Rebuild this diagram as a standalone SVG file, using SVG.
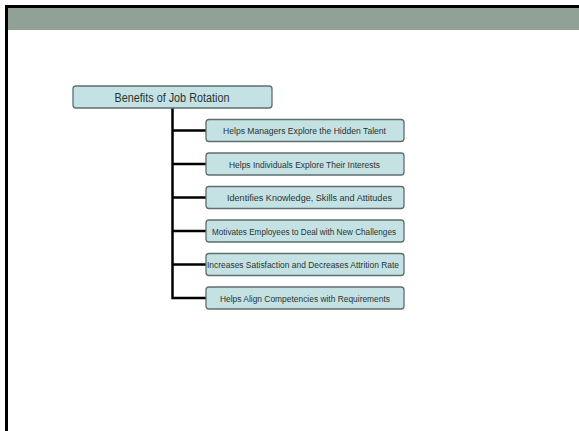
<svg xmlns="http://www.w3.org/2000/svg" width="579" height="431" viewBox="0 0 579 431">
<style>
.box{fill:#c4e2e3;stroke:#5f6d6d;stroke-width:1.3}
.t{font-family:"Liberation Sans Narrow","Liberation Sans",Arial,sans-serif;fill:#2a3333;text-anchor:middle;font-size:9.6px}
.title{font-size:12.5px}
.conn{stroke:#000;stroke-width:2.5;fill:none}
</style>
<rect x="0" y="0" width="579" height="431" fill="#fff"/>
<rect x="8" y="8" width="571" height="22" fill="#91a196"/>
<path d="M6.5 431 V6.5 H579" fill="none" stroke="#000" stroke-width="3"/>
<g id="connectors">
<path class="conn" d="M172.5 108 V298 H206"/>
<path class="conn" d="M172.5 130.5 H206"/>
<path class="conn" d="M172.5 164 H206"/>
<path class="conn" d="M172.5 197.5 H206"/>
<path class="conn" d="M172.5 231 H206"/>
<path class="conn" d="M172.5 264.5 H206"/>
</g>
<g id="root">
<rect class="box" x="73" y="86" width="199" height="22" rx="3"/>
<text class="t title" x="172" y="101.5" textLength="115" lengthAdjust="spacingAndGlyphs">Benefits of Job Rotation</text>
</g>
<g id="n1">
<rect class="box" x="206" y="119.5" width="198" height="22" rx="3"/>
<text class="t" x="304.5" y="134" textLength="163" lengthAdjust="spacingAndGlyphs">Helps Managers Explore the Hidden Talent</text>
</g>
<g id="n2">
<rect class="box" x="206" y="153" width="198" height="22" rx="3"/>
<text class="t" x="304.5" y="167.5" textLength="151" lengthAdjust="spacingAndGlyphs">Helps Individuals Explore Their Interests</text>
</g>
<g id="n3">
<rect class="box" x="206" y="186.5" width="198" height="22" rx="3"/>
<text class="t" x="309.5" y="201" textLength="165" lengthAdjust="spacingAndGlyphs">Identifies Knowledge, Skills and Attitudes</text>
</g>
<g id="n4">
<rect class="box" x="206" y="220" width="198" height="22" rx="3"/>
<text class="t" x="304" y="234.5" textLength="184" lengthAdjust="spacingAndGlyphs">Motivates Employees to Deal with New Challenges</text>
</g>
<g id="n5">
<rect class="box" x="206" y="253.5" width="198" height="22" rx="3"/>
<text class="t" x="303" y="268" textLength="192" lengthAdjust="spacingAndGlyphs">Increases Satisfaction and Decreases Attrition Rate</text>
</g>
<g id="n6">
<rect class="box" x="206" y="287" width="198" height="22" rx="3"/>
<text class="t" x="305" y="301.5" textLength="170" lengthAdjust="spacingAndGlyphs">Helps Align Competencies with Requirements</text>
</g>
</svg>
